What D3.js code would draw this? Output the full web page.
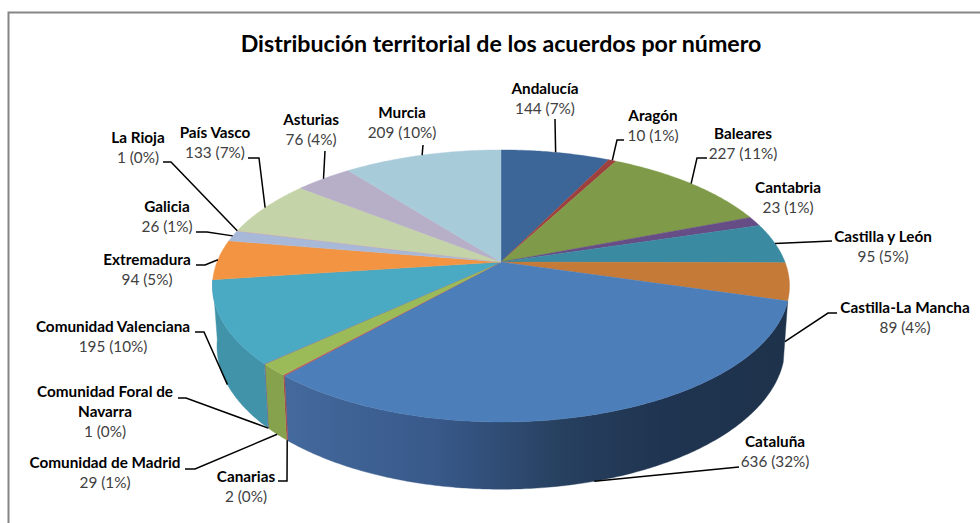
<!DOCTYPE html>
<html>
<head>
<meta charset="utf-8">
<script src="https://cdn.jsdelivr.net/npm/d3@7"></script>
<style>
  html, body { margin: 0; padding: 0; background: #fff; }
  svg { display: block; font-family: Lato, "Open Sans", sans-serif; }
</style>
</head>
<body>
<div id="chart"></div>
<script>
const chartTitle = 'Distribución territorial de los acuerdos por número';

// Slices in clockwise order from 12 o'clock
const regions = ['Andalucía', 'Aragón', 'Baleares', 'Cantabria', 'Castilla y León', 'Castilla-La Mancha',
    'Cataluña', 'Canarias', 'Comunidad de Madrid', 'Comunidad Foral de Navarra', 'Comunidad Valenciana',
    'Extremadura', 'Galicia', 'La Rioja', 'País Vasco', 'Asturias', 'Murcia'];
const counts = [144, 10, 227, 23, 95, 89, 636, 2, 29, 1, 195, 94, 26, 1, 133, 76, 209];
const percents = [7, 1, 11, 1, 5, 4, 32, 0, 1, 0, 10, 5, 1, 0, 7, 4, 10];

const topColors = ['#3c6698', '#9e413e', '#7f9a48', '#664d85', '#3a8aa2', '#c67a37', '#4c7eba', '#c0504d',
    '#9bbb59', '#8064a2', '#4aa9c3', '#f39443', '#a7b8d8', '#d9a5a3', '#c4d4a8', '#b7aec8', '#a8cbda'];

// Label centres, wrapped name lines and leader elbows
const labelLines = {9: ['Comunidad Foral de', 'Navarra']};
const labelPos = [[545, 88], [653, 115], [743, 133], [788, 187], [883, 236], [905, 307], [775, 441], [246, 476],
    [105, 462], [105, 391], [113, 326], [147, 259], [167, 206], [138, 137], [215, 132], [311, 119], [402, 112]];
const leaderPts = [
    [[555, 119]],
    [[624, 140], [617, 140]],
    [[707, 158], [697, 158]],
    null,
    [[832, 241]],
    [[837, 313], [828, 313]],
    [[739, 467]],
    [[278, 481], [287, 481]],
    [[185, 469], [195, 469]],
    [[178, 398], [186, 398]],
    [[195, 332], [204, 332]],
    [[196, 265], [205, 265]],
    [[196, 232], [207, 232]],
    [[163, 162], [171, 162]],
    [[248, 158], [259, 158]],
    [[325, 151]],
    [[423, 145]]
];

const width = 980, height = 523;

// Perspective view of the disc: upper rim and lower rim
const topRim = {cx: 501, cy: 262, rx: 284, ry: 131.8, k: 0.176};
const bottomRim = {cx: 501, cy: 321, rx: 279.6, ry: 138.6, k: 0.176};

function project(rim, angle) {
    const x = Math.sin(angle), y = -Math.cos(angle);
    const d = 1 - rim.k * y;
    return [rim.cx + rim.rx * x / d, rim.cy + rim.ry * y / d];
}

function rimPoints(rim, a0, a1) {
    const n = Math.max(2, Math.ceil((a1 - a0) / 0.01));
    return d3.range(n + 1).map(i => project(rim, a0 + (a1 - a0) * i / n));
}

const svg = d3.select('#chart').append('svg')
    .attr('width', width)
    .attr('height', height);

// Chart area frame, open at right and bottom
svg.append('path')
    .attr('d', `M8.5,${height} V12.5 H${width}`)
    .attr('fill', 'none')
    .attr('stroke', '#868686')
    .attr('stroke-width', 2);

svg.append('text')
    .attr('x', 501)
    .attr('y', 43)
    .attr('text-anchor', 'middle')
    .attr('dominant-baseline', 'central')
    .attr('font-size', 23.2)
    .attr('font-weight', 700)
    .attr('fill', '#000')
    .text(chartTitle);

const pie = d3.pie().sort(null).value(d => d);
const slices = pie(counts);
const line = d3.line();

const defs = svg.append('defs');
function sideGradient(id, stops) {
    const g = defs.append('linearGradient')
        .attr('id', id)
        .attr('gradientUnits', 'userSpaceOnUse')
        .attr('x1', 285).attr('x2', 790).attr('y1', 0).attr('y2', 0);
    stops.forEach(s => g.append('stop').attr('offset', s[0]).attr('stop-color', s[1]));
}
sideGradient('side-cataluna', [[0, '#44699c'], [0.3, '#38598a'], [0.55, '#27405f'], [0.75, '#1f3450'], [1, '#1e324b']]);

const sideColor = d => {
    if (d.index === 6) return 'url(#side-cataluna)';
    return d3.color(topColors[d.index]).darker(0.4);
};

// Sides: only the slices that face the viewer
const frontFrom = 100 * Math.PI / 180, frontTo = 262 * Math.PI / 180;
const sides = svg.append('g');
sides.selectAll('path')
    .data(slices.filter(d => d.startAngle >= frontFrom && d.startAngle < frontTo))
    .join('path')
    .attr('d', d => line(rimPoints(topRim, d.startAngle, d.endAngle)
        .concat(rimPoints(bottomRim, d.startAngle, d.endAngle).reverse())) + 'Z')
    .attr('fill', sideColor)
    .attr('stroke', sideColor)
    .attr('stroke-width', 0.4);

// Top face
svg.append('g').selectAll('path')
    .data(slices)
    .join('path')
    .attr('d', d => line([[topRim.cx, topRim.cy]].concat(rimPoints(topRim, d.startAngle, d.endAngle))) + 'Z')
    .attr('fill', d => topColors[d.index])
    .attr('stroke', d => topColors[d.index])
    .attr('stroke-width', 0.4);

// Leaders end on the rim at the middle of the slice
const leaders = svg.append('g');
slices.forEach(d => {
    const pts = leaderPts[d.index];
    if (!pts) return;
    const mid = (d.startAngle + d.endAngle) / 2;
    const rim = Math.cos(mid) < -0.05 ? bottomRim : topRim;
    leaders.append('path')
        .attr('d', line(pts.concat([project(rim, mid)])))
        .attr('fill', 'none')
        .attr('stroke', '#000')
        .attr('stroke-width', 1.5);
});

const labels = svg.append('g')
    .attr('text-anchor', 'middle')
    .attr('font-size', 15.3);

regions.forEach((name, i) => {
    const [x, y] = labelPos[i];
    const lines = labelLines[i] || [name];
    lines.forEach((t, j) => {
        labels.append('text')
            .attr('x', x)
            .attr('y', y + j * 20)
            .attr('dominant-baseline', 'central')
            .attr('font-weight', 700)
            .attr('fill', '#000')
            .text(t);
    });
    labels.append('text')
        .attr('x', x)
        .attr('y', y + lines.length * 20)
        .attr('dominant-baseline', 'central')
        .attr('fill', '#404040')
        .text(`${counts[i]} (${percents[i]}%)`);
});
</script>
</body>
</html>
